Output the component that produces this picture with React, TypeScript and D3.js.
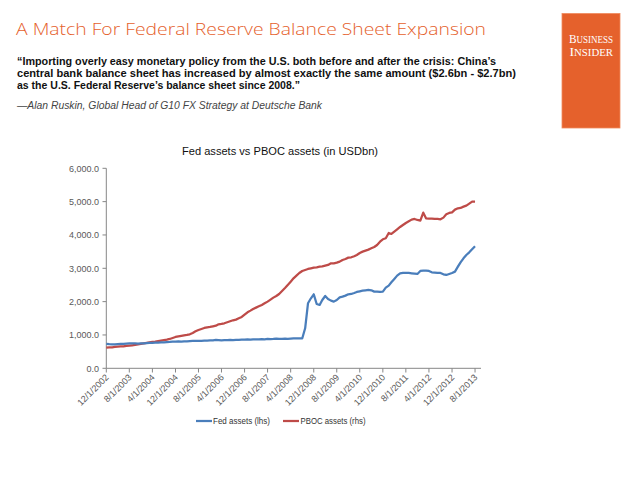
import React from "react";
import * as d3 from "d3";

const titleText = "A Match For Federal Reserve Balance Sheet Expansion";
const quoteLines = [
  "\u201CImporting overly easy monetary policy from the U.S. both before and after the crisis: China\u2019s",
  "central bank balance sheet has increased by almost exactly the same amount ($2.6bn - $2.7bn)",
  "as the U.S. Federal Reserve\u2019s balance sheet since 2008.\u201D",
];
const attribution = "\u2014Alan Ruskin, Global Head of G10 FX Strategy at Deutsche Bank";
const chartTitle = "Fed assets vs PBOC assets (in USDbn)";

const startMonth = "12/1/2002";
const xTickLabels = [
  "12/1/2002", "8/1/2003", "4/1/2004", "12/1/2004", "8/1/2005", "4/1/2006",
  "12/1/2006", "8/1/2007", "4/1/2008", "12/1/2008", "8/1/2009", "4/1/2010",
  "12/1/2010", "8/1/2011", "4/1/2012", "12/1/2012", "8/1/2013",
];
const yTicks = [0, 1000, 2000, 3000, 4000, 5000, 6000];

// monthly values, USD bn, from 12/2002
const fedAssets = [
  735, 722, 715, 720, 725, 730, 735, 740, 745,
  745, 750, 742, 745, 750, 755, 760, 765,
  770, 770, 775, 780, 785, 790, 800, 800,
  805, 800, 810, 810, 815, 820, 820, 825,
  825, 830, 830, 835, 840, 850, 845, 840,
  845, 845, 850, 845, 850, 855, 860, 860,
  865, 860, 870, 865, 870, 875, 870, 880,
  875, 880, 890, 880, 885, 890, 880, 890,
  900, 895, 900, 895, 1200, 1950, 2100, 2220,
  1930, 1900, 2050, 2170, 2080, 2030, 2000, 2050,
  2130, 2150, 2180, 2220, 2230, 2260, 2290, 2310,
  2330, 2340, 2350, 2340, 2300, 2300, 2290, 2300,
  2420, 2480, 2580, 2680, 2780, 2850, 2860, 2860,
  2860, 2850, 2840, 2830, 2920, 2930, 2930, 2920,
  2880, 2870, 2860, 2860, 2820, 2800, 2830, 2860,
  2900, 3050, 3180, 3300, 3400, 3480, 3570, 3660,
];
const pbocAssets = [
  620, 625, 630, 640, 650, 655, 660, 670, 680,
  690, 700, 715, 730, 745, 760, 775, 790,
  800, 815, 830, 845, 860, 880, 910, 940,
  960, 975, 990, 1000, 1020, 1060, 1110, 1150,
  1180, 1210, 1230, 1240, 1260, 1280, 1320, 1330,
  1350, 1380, 1410, 1440, 1460, 1500, 1540, 1610,
  1680, 1730, 1780, 1820, 1860, 1900, 1950, 2000,
  2060, 2120, 2170, 2230, 2320, 2410, 2500, 2600,
  2700, 2780, 2860, 2920, 2950, 2980, 3000, 3020,
  3030, 3050, 3060, 3080, 3100, 3150, 3150, 3170,
  3200, 3250, 3280, 3320, 3330, 3360, 3400, 3460,
  3500, 3530, 3560, 3600, 3640, 3700, 3800, 3870,
  3900, 4060, 4030, 4100, 4170, 4240, 4300, 4360,
  4410, 4460, 4480, 4450, 4430, 4670, 4500, 4490,
  4490, 4480, 4480, 4470, 4520, 4620, 4660, 4680,
  4760, 4800, 4810, 4850, 4880, 4940, 5000, 5000,
];

const parse = d3.timeParse("%m/%d/%Y");
const start = parse(startMonth) as Date;
const dates = fedAssets.map((_, i) => d3.timeMonth.offset(start, i));

const ORANGE = "#E5612C";
const BLUE = "#4A7EBB";
const RED = "#BE4B48";
const AXIS = "#868686";
const LABEL = "#595959";

export default function App() {
  const x = d3
    .scaleTime()
    .domain([start, new Date(2013, 9, 3)])
    .range([106.3, 481]);
  const y = d3.scaleLinear().domain([0, 6000]).range([368.3, 168.3]);
  const fmt = d3.format(",.1f");

  const line = d3
    .line<number>()
    .x((_, i) => x(dates[i]))
    .y((d) => y(d));

  const font = "'Liberation Sans', Arial, sans-serif";

  return (
    <svg
      width={640}
      height={480}
      style={{ position: "absolute", left: 0, top: 0, background: "#fff" }}
      fontFamily={font}
    >
      <rect x={0} y={0} width={640} height={480} fill="#fff" />
      {/* Header */}
      <text
        x={16}
        y={34.5}
        fontSize={17}
        fill={ORANGE}
        fontFamily="'Open Sans', 'DejaVu Sans', sans-serif"
        fontWeight={300}
        textLength={470}
        lengthAdjust="spacingAndGlyphs"
      >
        {titleText}
      </text>
      {quoteLines.map((t, i) => (
        <text
          key={i}
          x={17}
          y={65.2 + i * 12}
          fontSize={10.5}
          fontWeight="bold"
          fill="#111"
          fontFamily="'Liberation Sans', Arial, sans-serif"
          textLength={[479, 499, 283][i]}
          lengthAdjust="spacingAndGlyphs"
        >
          {t}
        </text>
      ))}
      <text
        x={17}
        y={108.5}
        fontSize={10}
        fontStyle="italic"
        fill="#444"
        fontFamily="'Liberation Sans', Arial, sans-serif"
        textLength={305}
        lengthAdjust="spacingAndGlyphs"
      >
        {attribution}
      </text>

      {/* Logo */}
      <rect x={562} y={13.5} width={58} height={114.5} fill={ORANGE} stroke="#ef8a5e" strokeWidth={0.8} />
      <text
        x={569}
        y={43}
        fill="#fff"
        fontFamily="'Liberation Serif', 'DejaVu Serif', serif"
        fontSize={9.5}
        textLength={44}
        lengthAdjust="spacingAndGlyphs"
      >
        <tspan fontSize={12}>B</tspan>USINESS
      </text>
      <text
        x={569.5}
        y={56}
        fill="#fff"
        fontFamily="'Liberation Serif', 'DejaVu Serif', serif"
        fontSize={9.5}
        textLength={43.5}
        lengthAdjust="spacingAndGlyphs"
      >
        <tspan fontSize={12}>I</tspan>NSIDER
      </text>

      {/* Chart title */}
      <text
        x={280}
        y={155.2}
        textAnchor="middle"
        fontSize={11.2}
        fill="#111"
        textLength={196}
        lengthAdjust="spacingAndGlyphs"
      >
        {chartTitle}
      </text>

      {/* Y axis */}
      <line x1={106.3} x2={106.3} y1={168.3} y2={368.3} stroke={AXIS} strokeWidth={1} />
      {yTicks.map((v) => (
        <g key={v}>
          <line x1={102.5} x2={106.3} y1={y(v)} y2={y(v)} stroke={AXIS} />
          <text x={99} y={y(v) + 3.2} textAnchor="end" fontSize={9} fill={LABEL}>
            {fmt(v)}
          </text>
        </g>
      ))}

      {/* X axis */}
      <line x1={106.3} x2={481} y1={368.3} y2={368.3} stroke={AXIS} strokeWidth={1} />
      {xTickLabels.map((lab) => {
        const px = x(parse(lab) as Date);
        return (
          <g key={lab}>
            <line x1={px} x2={px} y1={368.3} y2={372.5} stroke={AXIS} />
            <text
              transform={`translate(${px + 3},${378}) rotate(-45)`}
              textAnchor="end"
              fontSize={9}
              fill={LABEL}
            >
              {lab}
            </text>
          </g>
        );
      })}

      {/* Lines */}
      <path d={line(pbocAssets) || ""} fill="none" stroke={RED} strokeWidth={2.25} strokeLinejoin="round" />
      <path d={line(fedAssets) || ""} fill="none" stroke={BLUE} strokeWidth={2.25} strokeLinejoin="round" />

      {/* Legend */}
      <line x1={196} x2={212} y1={421} y2={421} stroke={BLUE} strokeWidth={2.25} />
      <text x={213} y={424} fontSize={8.2} fill="#333" textLength={57} lengthAdjust="spacingAndGlyphs">
        Fed assets (lhs)
      </text>
      <line x1={283} x2={299} y1={421} y2={421} stroke={RED} strokeWidth={2.25} />
      <text x={300.5} y={424} fontSize={8.2} fill="#333" textLength={65} lengthAdjust="spacingAndGlyphs">
        PBOC assets (rhs)
      </text>
    </svg>
  );
}
